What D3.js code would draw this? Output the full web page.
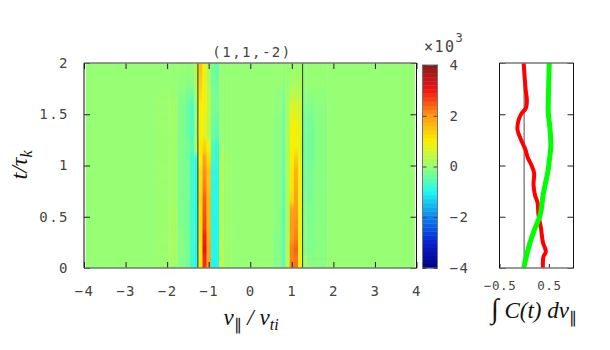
<!DOCTYPE html>
<html>
<head>
<meta charset="utf-8">
<script src="https://cdn.jsdelivr.net/npm/d3@7"></script>
<style>
  body { margin: 0; background: #fff; }
  svg { display: block; }
  .tick text, .title { font-family: "DejaVu Sans Mono", monospace; font-size: 14px; fill: #444; letter-spacing: 1.5px; }
  .math { font-family: "Liberation Serif", serif; font-style: italic; fill: #111; }
</style>
</head>
<body>
<div id="svg-chart"></div>
<script>
// cell edges in v_par, wide cells where the map is flat
var vEdges = [-4.2, -2.25, -1.95, -1.75, -1.55, -1.45, -1.35, -1.25, -1.15, -1.05, -0.95, -0.85, -0.75, -0.65, -0.45,
              0.55, 0.75, 0.85, 0.95, 1.05, 1.15, 1.25, 1.35, 1.55, 1.85, 4.2];
var tEdges = [-0.2, 0.125, 0.25, 0.375, 0.5, 0.625, 0.75, 0.875, 1, 1.125, 1.25, 1.375, 1.5, 1.625, 1.75, 1.875, 2.2];

// one row per time band, bottom to top
var heat = [
  [0, .05, .1, -.15, -.3, -.7, -.95, 1.1, 2.8, 1.9, -1, -1, .4, .05, 0, -.15, -.45, .3, 2.2, 2.3, .9, .1, -.1, -.1, 0],
  [0, .05, .15, -.15, -.3, -.7, -.95, 1.1, 3.1, 1.9, -1, -1, .4, .05, 0, -.15, -.45, .3, 2.2, 2.4, .9, -.1, -.2, -.1, 0],
  [0, .05, .15, -.15, -.3, -.7, -.9, 1.2, 2.9, 1.7, -1, -1, .35, .05, 0, -.15, -.45, .25, 2, 2.2, .9, -.1, -.2, -.1, 0],
  [0, .05, .15, -.2, -.3, -.7, -.9, 1.2, 2.6, 1.6, -1, -1, .3, .05, 0, -.1, -.45, .2, 2, 2.1, .9, -.1, -.2, -.1, 0],
  [0, .05, .15, -.2, -.3, -.7, -.9, 1.2, 2.5, 1.6, -1, -.95, .3, .05, 0, -.1, -.45, .2, 1.9, 2, .9, -.15, -.2, -.1, 0],
  [0, .05, .1, -.2, -.3, -.7, -.9, 1.3, 2.4, 1.6, -.95, -.95, .3, .05, 0, -.1, -.4, .2, 1.2, 1.9, .9, -.2, -.25, -.1, 0],
  [0, .05, .1, -.2, -.3, -.7, -.85, 1.2, 2.2, 1.5, -.9, -.95, .3, .05, 0, -.1, -.4, .2, 1.1, 1.8, .9, -.3, -.25, -.1, 0],
  [0, .05, .1, -.2, -.3, -.7, -.85, 1.2, 2.1, 1.5, -.9, -.9, .3, .05, 0, -.1, -.4, .2, 1.1, 1.7, .9, -.3, -.25, -.1, 0],
  [0, .05, .1, -.2, -.3, -.7, -.8, 1, 1.9, 1.2, -.7, -.85, .2, .05, 0, -.1, -.35, .2, 1, 1.4, .8, -.3, -.3, -.1, 0],
  [0, .05, .1, -.2, -.3, -.5, .2, 1.1, 1.3, .9, -.6, -.8, .1, 0, 0, -.1, -.3, .2, 1, 1, .7, -.3, -.3, -.1, 0],
  [0, .05, .1, -.2, -.4, -.6, 0, 1, .9, .3, -.35, -.5, 0, 0, 0, -.1, -.3, .2, 1, 1, .7, -.3, -.3, -.1, 0],
  [0, .05, .1, -.2, -.4, -.6, 0, 1, .9, .35, -.3, -.4, 0, 0, 0, -.1, -.3, .15, .9, .9, .6, -.3, -.3, -.1, 0],
  [0, .05, .1, -.2, -.4, -.6, -.1, 1, 1, .4, -.2, -.3, 0, 0, 0, -.05, -.25, .1, .7, .7, .5, -.2, -.2, -.1, 0],
  [0, .05, .05, -.15, -.3, -.4, .1, 1.2, 1, .35, -.25, -.3, 0, 0, 0, -.05, -.2, .1, .4, .4, .3, -.1, -.1, -.05, 0],
  [0, 0, 0, -.05, -.1, -.1, .25, 1.4, .9, .25, -.3, -.35, 0, 0, 0, 0, -.05, 0, .1, .2, .15, 0, 0, 0, 0],
  [0, 0, 0, 0, -.05, 0, .3, 1.5, 1, .2, -.3, -.4, 0, 0, 0, 0, 0, 0, .05, .05, .05, 0, 0, 0, 0]
];

var colorStops = [-4, -3, -2, -1, 0, 1, 2, 3, 4];
var colorValues = ["#000080", "#0a20d0", "#0a80f0", "#20f8f0", "#96ff73", "#f8f000", "#ff9a14", "#f01414", "#8b1a1a"];
var barLevels = d3.range(-4, 4, 0.16);

// line panel
var redTime = [2, 1.74, 1.64, 1.56, 1.51, 1.44, 1.35, 1.27, 1.2, 1.15, 1.08, 1, .93, .81, .71, .64, .52, .39, .25, .16, .11, 0];
var redCorr = [-.01, .03, .055, .035, -.05, -.115, -.135, -.08, -.015, .03, .07, .15, .2, .19, .22, .27, .29, .34, .38, .44, .39, .38];
var greenTime = [2, 1.64, 1.51, 1.35, 1.18, 1.05, .95, .73, .52, .35, .2, 0];
var greenCorr = [.51, .49, .49, .525, .54, .51, .485, .39, .325, .19, .09, -.01];

var vTicks = [-4, -3, -2, -1, 0, 1, 2, 3, 4];
var tTicks = [0, 0.5, 1, 1.5, 2];
var barTicks = [-4, -2, 0, 2, 4];
var corrTicks = [-0.5, 0.5];
var resonance = [-1.26, 1.26];

var svg = d3.select("#svg-chart").append("svg").attr("width", 610).attr("height", 350);

var xScale = d3.scaleLinear().domain([-4, 4]).range([84, 416.5]);
var yScale = d3.scaleLinear().domain([0, 2]).range([268, 63]);
var barScale = d3.scaleLinear().domain([-4, 4]).range([268, 65]);
var corrScale = d3.scaleLinear().domain([-0.5, 1]).range([499.5, 573.5]);
var color = d3.scaleLinear().domain(colorStops).range(colorValues);

function fmt(d) { return String(d).replace("-", "\u2212"); }

var defs = svg.append("defs");
defs.append("clipPath").attr("id", "heat-clip").append("rect")
    .attr("x", xScale(-3.96)).attr("y", yScale(2))
    .attr("width", xScale(3.96) - xScale(-3.96)).attr("height", yScale(0) - yScale(2));
var blur = defs.append("filter").attr("id", "soft")
    .attr("filterUnits", "userSpaceOnUse").attr("x", 0).attr("y", 0).attr("width", 610).attr("height", 350);
blur.append("feGaussianBlur").attr("stdDeviation", "0 3");

// heat map
var rows = svg.append("g").attr("clip-path", "url(#heat-clip)")
    .append("g").attr("filter", "url(#soft)")
    .selectAll("g").data(heat).enter().append("g");

rows.selectAll("rect")
    .data(function(row, i) { return row.map(function(v, j) { return { v: v, i: i, j: j }; }); })
    .enter().append("rect")
    .attr("x", function(d) { return xScale(vEdges[d.j]); })
    .attr("width", function(d) { return xScale(vEdges[d.j + 1]) - xScale(vEdges[d.j]) + 0.3; })
    .attr("y", function(d) { return yScale(tEdges[d.i + 1]); })
    .attr("height", function(d) { return yScale(tEdges[d.i]) - yScale(tEdges[d.i + 1]) + 0.3; })
    .attr("fill", function(d) { return color(d.v); });

svg.selectAll(".resonance").data(resonance).enter().append("line")
    .attr("class", "resonance")
    .attr("x1", function(d) { return xScale(d); }).attr("x2", function(d) { return xScale(d); })
    .attr("y1", yScale(0)).attr("y2", yScale(2))
    .attr("stroke", "#333").attr("stroke-width", 1);

// axes of the map, ticks point inward on all four sides
function tidy(g) {
    g.select(".domain").attr("stroke", "none");
    g.selectAll(".tick line").attr("stroke", "#222");
}
svg.append("g").attr("transform", "translate(0,268)")
    .call(d3.axisBottom(xScale).tickValues(vTicks).tickSize(-6).tickPadding(18).tickFormat(fmt)).call(tidy);
svg.append("g").attr("transform", "translate(0,63)")
    .call(d3.axisTop(xScale).tickValues(vTicks).tickSize(-6).tickFormat("")).call(tidy);
svg.append("g").attr("transform", "translate(84,0)")
    .call(d3.axisLeft(yScale).tickValues(tTicks).tickSize(-6).tickPadding(15).tickFormat(fmt)).call(tidy);
svg.append("g").attr("transform", "translate(416.5,0)")
    .call(d3.axisRight(yScale).tickValues(tTicks).tickSize(-6).tickFormat("")).call(tidy);

function frame(x0, x1, y0, y1) {
    svg.append("line").attr("x1", x0).attr("x2", x1).attr("y1", y0).attr("y2", y0).attr("stroke", "#777").attr("stroke-width", 1.5);
    svg.append("line").attr("x1", x0).attr("x2", x1).attr("y1", y1).attr("y2", y1).attr("stroke", "#777").attr("stroke-width", 1.5);
    svg.append("line").attr("x1", x0).attr("x2", x0).attr("y1", y0).attr("y2", y1).attr("stroke", "#111");
    svg.append("line").attr("x1", x1).attr("x2", x1).attr("y1", y0).attr("y2", y1).attr("stroke", "#111");
}
frame(xScale(-4), xScale(4), yScale(2), yScale(0));

svg.append("text").attr("class", "title").attr("x", 252).attr("y", 57)
    .attr("text-anchor", "middle").text("(1,1,-2)");

// colour bar
var barStep = barLevels[1] - barLevels[0];
svg.append("g").selectAll("rect").data(barLevels).enter().append("rect")
    .attr("x", 422.5).attr("width", 15)
    .attr("y", function(d) { return barScale(d + barStep); })
    .attr("height", function(d) { return barScale(d) - barScale(d + barStep) + 0.4; })
    .attr("fill", function(d) { return color(d + barStep / 2); });
svg.append("rect").attr("x", 422.5).attr("y", 65).attr("width", 15).attr("height", 203)
    .attr("fill", "none").attr("stroke", "#777");
var barAxis = svg.append("g").attr("transform", "translate(422.5,0)")
    .call(d3.axisRight(barScale).tickValues(barTicks).tickSize(4).tickPadding(23).tickFormat(fmt));
barAxis.select(".domain").attr("stroke", "none");
barAxis.selectAll(".tick line").attr("stroke", "#444");
barAxis.selectAll(".tick text").attr("text-anchor", "start");
svg.append("g").attr("transform", "translate(437.5,0)")
    .call(d3.axisLeft(barScale).tickValues(barTicks).tickSize(4).tickFormat(""))
    .call(function(g) {
        g.select(".domain").attr("stroke", "none");
        g.selectAll(".tick line").attr("stroke", "#444");
    });
var times10 = svg.append("text").attr("class", "title").attr("x", 424).attr("y", 52).style("font-size", "15px");
times10.append("tspan").text("\u00d710");
times10.append("tspan").attr("dy", -10).style("font-size", "12px").text("3");

// line panel
svg.append("line")
    .attr("x1", corrScale(0)).attr("x2", corrScale(0))
    .attr("y1", yScale(0)).attr("y2", yScale(2))
    .attr("stroke", "#888").attr("stroke-width", 1.5);

var curve = d3.line()
    .x(function(d) { return corrScale(d[1]); })
    .y(function(d) { return yScale(d[0]); })
    .curve(d3.curveCatmullRom);

svg.append("path").datum(d3.zip(redTime, redCorr))
    .attr("d", curve).attr("fill", "none").attr("stroke", "#ff0000").attr("stroke-width", 4);
svg.append("path").datum(d3.zip(greenTime, greenCorr))
    .attr("d", curve).attr("fill", "none").attr("stroke", "#00ff00").attr("stroke-width", 5);

svg.append("g").attr("transform", "translate(499.5,0)")
    .call(d3.axisLeft(yScale).tickValues(tTicks).tickSize(-6).tickFormat("")).call(tidy);
svg.append("g").attr("transform", "translate(573.5,0)")
    .call(d3.axisRight(yScale).tickValues(tTicks).tickSize(-6).tickFormat("")).call(tidy);
var corrAxis = svg.append("g").attr("transform", "translate(0,268)")
    .call(d3.axisBottom(corrScale).tickValues(corrTicks).tickSize(-4).tickPadding(13)
        .tickFormat(fmt)).call(tidy);
corrAxis.selectAll(".tick text").style("font-size", "12.5px").style("letter-spacing", "0.6px");
frame(corrScale(-0.5), corrScale(1), yScale(2), yScale(0));

// axis titles
var tLabel = svg.append("text").attr("class", "math")
    .attr("transform", "translate(27,165) rotate(-90)")
    .attr("text-anchor", "middle").style("font-size", "24px");
tLabel.append("tspan").text("t/\u03c4");
tLabel.append("tspan").attr("dy", 5).style("font-size", "16px").text("k");

var vLabel = svg.append("text").attr("class", "math")
    .attr("x", 251).attr("y", 325).attr("text-anchor", "middle").style("font-size", "23px");
vLabel.append("tspan").text("v");
vLabel.append("tspan").attr("dy", 5).style("font-size", "16px").style("font-style", "normal").text("\u2225");
vLabel.append("tspan").attr("dy", -5).text(" / v");
vLabel.append("tspan").attr("dy", 5).style("font-size", "16px").text("ti");

var cLabel = svg.append("text").attr("class", "math")
    .attr("x", 491).attr("y", 318).style("font-size", "23px");
cLabel.append("tspan").style("font-style", "normal").style("font-size", "28px").text("\u222b");
cLabel.append("tspan").text(" C(t) dv");
cLabel.append("tspan").attr("dy", 5).style("font-size", "16px").style("font-style", "normal").text("\u2225");
</script>
</body>
</html>
